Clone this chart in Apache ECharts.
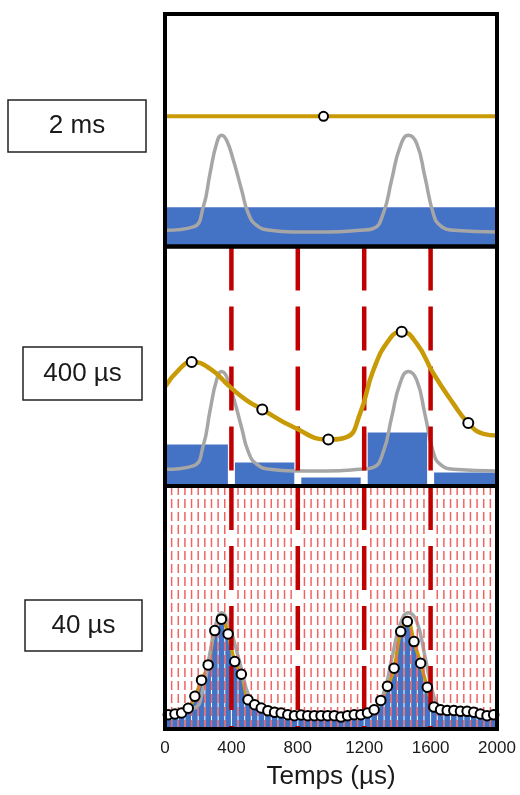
<!DOCTYPE html>
<html>
<head>
<meta charset="utf-8">
<script src="https://cdn.jsdelivr.net/npm/echarts@6/dist/echarts.min.js"></script>
<style>
  html, body { margin: 0; padding: 0; background: #fff; }
  #chart { width: 520px; height: 795px; }
</style>
</head>
<body>
<div id="chart"></div>
<script>
// ---- data ---------------------------------------------------------------
// Time axis ticks (µs)
const timeTicks = [0, 400, 800, 1200, 1600, 2000];

// Raw pulsed signal (grey trace): [time µs, amplitude]
const signalTrace = [
  [0, 6.1], [171, 7.6], [231, 16.4], [271, 31.0], [311, 44.2], [341, 47.8],
  [371, 45.6], [412, 36.8], [462, 23.7], [502, 13.5], [552, 8.3], [633, 6.1],
  [773, 5.4], [974, 5.4], [1175, 6.1], [1255, 6.9], [1315, 13.5], [1365, 28.1],
  [1416, 42.7], [1466, 47.8], [1516, 44.2], [1566, 29.5], [1616, 13.5],
  [1657, 8.3], [1737, 6.1], [2000, 5.4]
];

// 2 ms integration window
const window2ms = 2000;
const mean2ms = [16.2];
const curve2ms = [[0, 56.1], [2000, 56.1]];
const markers2ms = [[955, 56.1]];

// 400 µs integration windows
const window400us = 400;
const mean400us = [16.7, 9.0, 2.6, 21.8, 4.7];
const curve400us = [
  [0, 41.2], [90, 49.0], [161, 51.8], [271, 49.0], [392, 41.2], [492, 35.5],
  [586, 31.6], [773, 24.1], [984, 18.8], [1094, 19.8], [1175, 29.8], [1255, 48.3],
  [1355, 61.8], [1426, 64.7], [1516, 59.7], [1617, 46.9], [1737, 34.1],
  [1827, 25.8], [1918, 21.2], [2000, 20.5]
];
const markers400us = [[161, 51.8], [586, 31.6], [984, 18.8], [1426, 64.7], [1827, 25.8]];

// 40 µs integration windows (one mean per window)
const window40us = 40;
const mean40us = [
  5.0, 5.3, 5.7, 7.7, 12.7, 19.5, 25.9, 40.3, 45.1, 38.9,
  27.3, 22.0, 11.3, 9.2, 7.8, 6.7, 6.0, 5.7, 5.0, 4.6,
  4.9, 4.6, 4.6, 4.6, 4.6, 4.6, 4.0, 4.6, 5.0, 5.0,
  5.7, 7.1, 11.0, 16.9, 24.5, 39.9, 44.1, 35.7, 26.6, 16.5,
  8.2, 7.1, 6.8, 6.8, 6.4, 6.4, 6.0, 5.3, 4.6, 5.0
];

// Coarse window boundaries shown as heavy dashed lines
const coarseBounds = [400, 800, 1200, 1600];

// Row labels
const rowLabels = ['2 ms', '400 µs', '40 µs'];

// ---- layout -------------------------------------------------------------
const T_MAX = 2000;
const Y_MIN = -1, Y_MAX = 101;
const PLOT_LEFT = 165, PLOT_WIDTH = 332;
const panels = [
  { top: 14, height: 232.5 },
  { top: 246.5, height: 239.5 },
  { top: 486, height: 243 }
];
const labelBoxes = [
  { x: 8, y: 100, w: 138, h: 52 },
  { x: 23, y: 347, w: 119, h: 53 },
  { x: 25, y: 600, w: 117, h: 51 }
];

const BLUE = '#4472c4', GREY = '#a6a6a6', GOLD = '#c89a06';
const DARK_RED = '#c00000', LIGHT_RED = '#f06464';
const FONT = 'Liberation Sans, Arial, sans-serif';

// ---- helpers ------------------------------------------------------------
function windows(means, width) {
  return means.map((v, i) => [i * width, (i + 1) * width, v]);
}
function centres(means, width) {
  return means.map((v, i) => [i * width + width / 2, v]);
}
function boundaries(width) {
  const out = [];
  for (let t = 0; t <= T_MAX; t += width) out.push([t]);
  return out;
}

function barRenderer(inset) {
  return function (params, api) {
    const x0 = api.value(0), x1 = api.value(1), v = api.value(2);
    const pTop0 = api.coord([x0, v]);
    const pTop1 = api.coord([x1, v]);
    const cs = params.coordSys;
    const bottom = cs.y + cs.height;
    let left = pTop0[0], right = pTop1[0];
    if (x0 > 0) left += inset;
    if (x1 < T_MAX) right -= inset;
    return {
      type: 'rect',
      shape: { x: left, y: pTop0[1], width: right - left, height: bottom - pTop0[1] },
      style: { fill: BLUE }
    };
  };
}

function vlineRenderer(color, width, dash) {
  return function (params, api) {
    const x = api.value(0);
    const top = api.coord([x, Y_MAX]);
    const bot = api.coord([x, Y_MIN]);
    return {
      type: 'line',
      shape: { x1: top[0], y1: top[1], x2: bot[0], y2: bot[1] },
      style: { stroke: color, lineWidth: width, lineDash: dash }
    };
  };
}

function barSeries(idx, data, inset, z) {
  return { type: 'custom', xAxisIndex: idx, yAxisIndex: idx, data: data,
           renderItem: barRenderer(inset), z: z, silent: true };
}
function lineSeries(idx, data, color, width, smooth, z) {
  return { type: 'line', xAxisIndex: idx, yAxisIndex: idx, data: data,
           showSymbol: false, smooth: smooth,
           lineStyle: { color: color, width: width }, z: z, silent: true };
}
function markerSeries(idx, data, size, z) {
  return { type: 'scatter', xAxisIndex: idx, yAxisIndex: idx, data: data,
           symbol: 'circle', symbolSize: size,
           itemStyle: { color: '#fff', borderColor: '#000', borderWidth: 2, opacity: 1 },
           z: z, silent: true };
}
function dashSeries(idx, data, color, width, dash, z) {
  return { type: 'custom', xAxisIndex: idx, yAxisIndex: idx, data: data,
           renderItem: vlineRenderer(color, width, dash), z: z, silent: true };
}

// ---- chart --------------------------------------------------------------
const chart = echarts.init(document.getElementById('chart'), null, { renderer: 'canvas' });

const grids = panels.map(p => ({ left: PLOT_LEFT, width: PLOT_WIDTH, top: p.top, height: p.height, show: false }));

const xAxes = panels.map((p, i) => ({
  type: 'value', gridIndex: i, min: timeTicks[0], max: timeTicks[timeTicks.length - 1],
  interval: timeTicks[1] - timeTicks[0],
  axisLine: { show: false }, axisTick: { show: false }, splitLine: { show: false },
  axisLabel: { show: i === 2, fontSize: 17, color: '#1a1a1a', fontFamily: FONT, margin: 11,
               showMinLabel: true, showMaxLabel: true, formatter: v => String(v) },
  name: i === 2 ? 'Temps (µs)' : '',
  nameLocation: 'middle', nameGap: 35,
  nameTextStyle: { fontSize: 26, color: '#1a1a1a', fontFamily: FONT }
}));

const yAxes = panels.map((p, i) => ({
  type: 'value', gridIndex: i, min: Y_MIN, max: Y_MAX, show: false,
  splitLine: { show: false }
}));

const coarseLines = coarseBounds.map(t => [t]);
const fineLines = boundaries(window40us).filter(d => coarseBounds.indexOf(d[0]) < 0);

const series = [
  // 2 ms row
  barSeries(0, windows(mean2ms, window2ms), 0, 1),
  lineSeries(0, signalTrace, GREY, 3.5, true, 2),
  lineSeries(0, curve2ms, GOLD, 4, false, 3),
  markerSeries(0, markers2ms, 9, 4),

  // 400 µs row
  barSeries(1, windows(mean400us, window400us), 3.5, 1),
  lineSeries(1, signalTrace, GREY, 3.5, true, 2),
  dashSeries(1, coarseLines, DARK_RED, 4.5, [44, 16], 3),
  lineSeries(1, curve400us, GOLD, 4.5, true, 4),
  markerSeries(1, markers400us, 10, 5),

  // 40 µs row
  barSeries(2, windows(mean40us, window40us), 0.5, 1),
  lineSeries(2, centres(mean40us, window40us), GOLD, 3.5, true, 2),
  lineSeries(2, signalTrace, GREY, 3.5, true, 3),
  dashSeries(2, fineLines, LIGHT_RED, 1.5, [9, 4], 4),
  dashSeries(2, coarseLines, DARK_RED, 4.5, [44, 16], 5),
  markerSeries(2, centres(mean40us, window40us), 9.5, 6)
];

const graphics = [];
panels.forEach(p => {
  graphics.push({
    type: 'rect', z: 100, silent: true,
    shape: { x: PLOT_LEFT, y: p.top, width: PLOT_WIDTH, height: p.height },
    style: { fill: null, stroke: '#000', lineWidth: 4 }
  });
});
labelBoxes.forEach((b, i) => {
  graphics.push({
    type: 'rect', z: 100, silent: true,
    shape: { x: b.x, y: b.y, width: b.w, height: b.h },
    style: { fill: '#fff', stroke: '#222', lineWidth: 1.5 }
  });
  graphics.push({
    type: 'text', z: 101, silent: true,
    x: b.x + b.w / 2, y: b.y + b.h / 2,
    style: { text: rowLabels[i], fill: '#1a1a1a', font: '26px ' + FONT,
             align: 'center', verticalAlign: 'middle' }
  });
});

chart.setOption({
  animation: false,
  backgroundColor: '#fff',
  grid: grids,
  xAxis: xAxes,
  yAxis: yAxes,
  series: series,
  graphic: graphics
});
</script>
</body>
</html>
